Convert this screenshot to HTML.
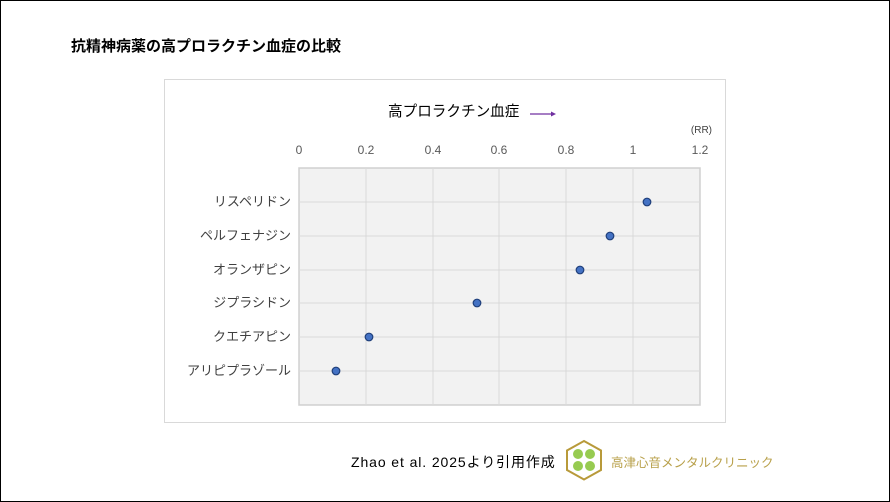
<!DOCTYPE html>
<html><head><meta charset="utf-8"><style>
body{margin:0;width:890px;height:502px;background:#fff;position:relative;overflow:hidden;font-family:"Liberation Sans","Noto Sans CJK JP",sans-serif}
.a{position:absolute;white-space:nowrap}
</style></head><body>
<div class="a" style="left:0;top:0;width:888px;height:500px;border:1px solid #000"></div>
<div class="a" style="left:71px;top:35px;font-size:15px;font-weight:bold;color:#000">抗精神病薬の高プロラクチン血症の比較</div>
<div class="a" style="left:164px;top:79px;width:560px;height:342px;border:1px solid #d9d9d9"></div>
<svg class="a" style="left:0;top:0" width="890" height="502">
<rect x="299" y="168" width="401" height="237" fill="#f2f2f2" stroke="#d0d0d0" stroke-width="1.5"/>
<g stroke="#d9d9d9" stroke-width="1">
<line x1="366" y1="168" x2="366" y2="405"/><line x1="433" y1="168" x2="433" y2="405"/><line x1="499" y1="168" x2="499" y2="405"/><line x1="566" y1="168" x2="566" y2="405"/><line x1="633" y1="168" x2="633" y2="405"/>
<line x1="299" y1="202" x2="700" y2="202"/><line x1="299" y1="236" x2="700" y2="236"/><line x1="299" y1="270" x2="700" y2="270"/><line x1="299" y1="303" x2="700" y2="303"/><line x1="299" y1="337" x2="700" y2="337"/><line x1="299" y1="371" x2="700" y2="371"/>
</g>
<g fill="#4472c4" stroke="#1f3f7a" stroke-width="1.2">
<circle cx="647" cy="202" r="3.8"/><circle cx="610" cy="236" r="3.8"/><circle cx="580" cy="270" r="3.8"/><circle cx="477" cy="303" r="3.8"/><circle cx="369" cy="337" r="3.8"/><circle cx="336" cy="371" r="3.8"/>
</g>
<g font-size="12" fill="#595959" text-anchor="middle" font-family="Liberation Sans, sans-serif">
<text x="299" y="154">0</text><text x="366" y="154">0.2</text><text x="433" y="154">0.4</text><text x="499" y="154">0.6</text><text x="566" y="154">0.8</text><text x="633" y="154">1</text><text x="700" y="154">1.2</text>
</g>
<text x="712" y="133" font-size="10" fill="#404040" text-anchor="end">(RR)</text>
<g font-size="13" fill="#404040" text-anchor="end" font-family="Liberation Sans, Noto Sans CJK JP, sans-serif">
<text x="291" y="206">リスペリドン</text><text x="291" y="240">ペルフェナジン</text><text x="291" y="274">オランザピン</text><text x="291" y="307">ジプラシドン</text><text x="291" y="341">クエチアピン</text><text x="291" y="375">アリピプラゾール</text>
</g>
<text x="388" y="116" font-size="14.6" fill="#000" font-family="Liberation Sans, Noto Sans CJK JP, sans-serif">高プロラクチン血症</text>
<line x1="530" y1="114" x2="553" y2="114" stroke="#7030a0" stroke-width="1.2"/>
<polygon points="556,114 551,111.5 551,116.5" fill="#7030a0"/>
<polygon points="584,441 601,450.5 601,470 584,479.5 567,470 567,450.5" fill="#fff" stroke="#b89a3a" stroke-width="2"/>
<g fill="#8cc63f" opacity="0.9"><circle cx="578" cy="454" r="5"/><circle cx="590" cy="454" r="5"/><circle cx="578" cy="466" r="5"/><circle cx="590" cy="466" r="5"/></g>
</svg>
<div class="a" style="left:351px;top:452px;font-size:14px;color:#000;letter-spacing:0.9px">Zhao et al. 2025より引用作成</div>
<div class="a" style="left:611px;top:452px;font-size:12.5px;color:#b8a04a">高津心音メンタルクリニック</div>
</body></html>
